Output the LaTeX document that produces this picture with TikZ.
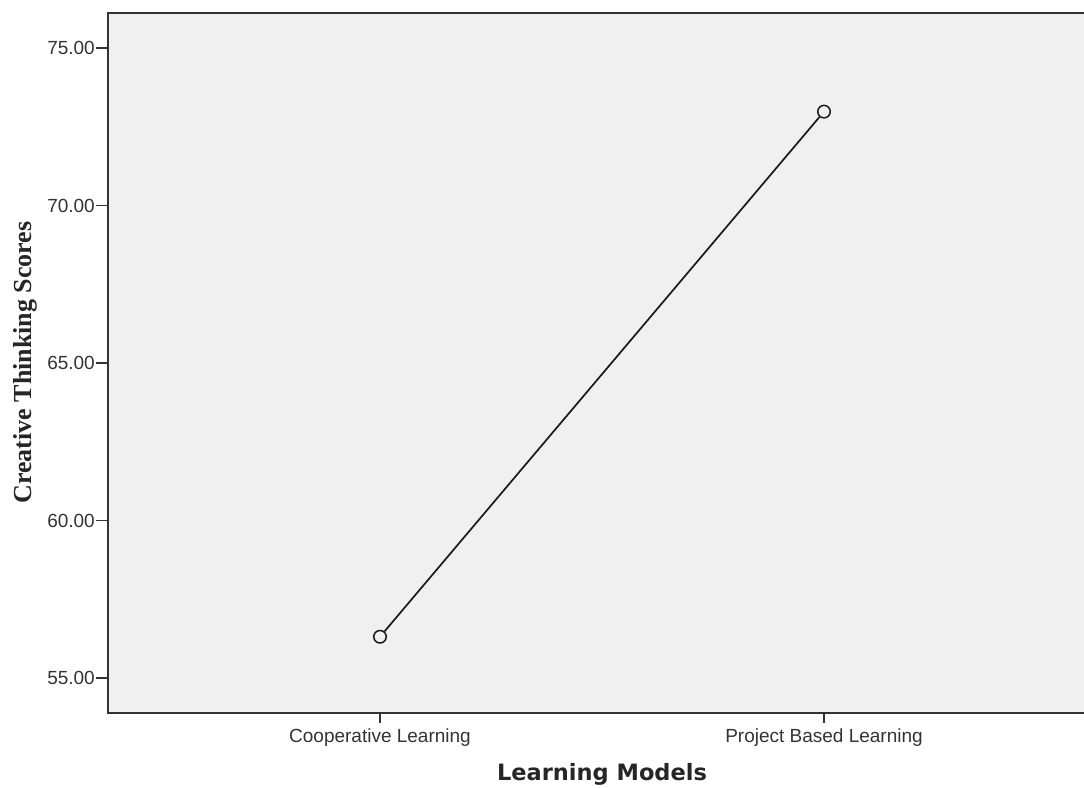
\documentclass[tikz,border=0pt]{standalone}
\usepackage{fontspec}
\setmainfont{Liberation Sans}
\newfontfamily\axisserif{Liberation Serif}
\newfontfamily\titlesans{DejaVu Sans}
\usetikzlibrary{positioning}

\begin{document}
\begin{tikzpicture}[
    x=1pt,y=-1pt,
    ticklabel/.style={font=\fontsize{19}{22}\selectfont,text=black!80,inner sep=0pt},
    axistitle/.style={font=\titlesans\bfseries\fontsize{22.5}{26}\selectfont,text=black!85,inner sep=0pt},
    scoretitle/.style={font=\axisserif\bfseries\fontsize{26}{30}\selectfont,text=black!85,inner sep=0pt},
    axisline/.style={draw=black!80,line width=2.2pt},
    tickline/.style={draw=black!80,line width=1.6pt},
    meanpoint/.style={circle,draw=black!90,line width=1.5pt,minimum size=12.5pt,inner sep=0pt},
    meanline/.style={draw=black!90,line width=1.7pt}
  ]
    \useasboundingbox (0,0) rectangle (1084,787);
    \fill[black!6] (108,13) rectangle (1084,713);
    \draw[axisline] (1084,13) -- (108,13) -- (108,713) -- (1084,713);

    % y axis, 5 units = 157.5px
    \foreach \v/\y in {75/48,70/205.5,65/363,60/520.5,55/678} {
      \draw[tickline] (96,\y) -- (108,\y);
      \node[ticklabel,anchor=east] (tick\v) at (95,\y) {\v.00};
    }

    % x axis
    \foreach \x/\name/\txt in {380/coop/Cooperative Learning,824/proj/Project Based Learning} {
      \draw[tickline] (\x,713) -- (\x,723);
      \node[ticklabel,anchor=base] (\name label) at (\x,742) {\txt};
    }

    \node[meanpoint] (coop) at (380,{678-(56.31-55)*31.5}) {};
    \node[meanpoint] (proj) at (824,{678-(72.98-55)*31.5}) {};
    \draw[meanline] (coop) -- (proj);

    \node[axistitle,anchor=base] (xtitle) at (602,780) {Learning Models};
    \node[scoretitle,rotate=90,anchor=base] (ytitle) at (31,362.5) {Creative Thinking Scores};
  \end{tikzpicture}
\end{document}
